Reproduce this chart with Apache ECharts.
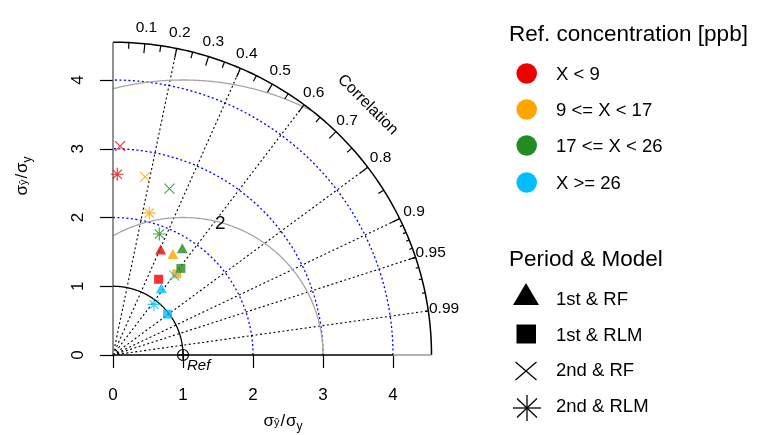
<!DOCTYPE html>
<html><head><meta charset="utf-8">
<script src="https://cdn.jsdelivr.net/npm/echarts@6/dist/echarts.min.js"></script>
<style>html,body{margin:0;padding:0;background:#fff}#c{width:761px;height:435px}</style>
</head><body><div id="c"></div>
<script>
// ---------------- data ----------------
const GROUPS = ['X < 9', '9 <= X < 17', '17 <= X < 26', 'X >= 26'];
const MODELS = ['1st & RF', '1st & RLM', '2nd & RF', '2nd & RLM'];
// normalised standard deviation (sigma_yhat / sigma_y), one value per concentration group
const SD_1ST_RF  = [1.68, 1.70, 1.84, 1.19];
const SD_1ST_RLM = [1.28, 1.49, 1.59, 0.98];
const SD_2ND_RF  = [3.04, 2.63, 2.55, 1.45];
const SD_2ND_RLM = [2.63, 2.13, 1.88, 0.94];
// correlation with reference, one value per concentration group
const COR_1ST_RF  = [0.405, 0.503, 0.538, 0.580];
const COR_1ST_RLM = [0.509, 0.611, 0.610, 0.795];
const COR_2ND_RF  = [0.033, 0.174, 0.316, 0.605];
const COR_2ND_RLM = [0.023, 0.243, 0.352, 0.623];
const REF_SD = 1;
const MAX_SD = 4.55;
const SD_TICKS = [0, 1, 2, 3, 4];
const SD_CIRCLES = [2, 3, 4];
const RMS_ARCS = [2, 4];
const RMS_LABELS = ['2'];
const CORR_RAYS = [0.2, 0.4, 0.6, 0.8, 0.9, 0.95, 0.99];
const CORR_LABELS = ['0.1', '0.2', '0.3', '0.4', '0.5', '0.6', '0.7', '0.8', '0.9', '0.95', '0.99'];
const CORR_BIG_TICKS = [0.1, 0.2, 0.3, 0.4, 0.5, 0.6, 0.7, 0.8, 0.9];
const CORR_MED_TICKS = [0.05, 0.15, 0.25, 0.35, 0.45, 0.55, 0.65, 0.75, 0.85, 0.95];
const CORR_SML_TICKS = [0.91, 0.92, 0.93, 0.94, 0.95, 0.96, 0.97, 0.98, 0.99];

// ---------------- styles ----------------
const FONT = '"Liberation Sans", Arial, Helvetica, sans-serif';
const GROUP_COLORS = ['#EE0000', '#FFA500', '#228B22', '#00BFFF'];
const SD_ALL = [SD_1ST_RF, SD_1ST_RLM, SD_2ND_RF, SD_2ND_RLM];
const COR_ALL = [COR_1ST_RF, COR_1ST_RLM, COR_2ND_RF, COR_2ND_RLM];
const SYMBOLS = [
  {symbol: 'triangle', size: [11, 10], filled: true},
  {symbol: 'rect', size: 9, filled: true},
  {symbol: 'path://M0,0L10,10M10,0L0,10', size: 10, filled: false},
  {symbol: 'path://M5,0L5,10M0,5L10,5M1.46,1.46L8.54,8.54M8.54,1.46L1.46,8.54', size: 13, filled: false}
];

const chart = echarts.init(document.getElementById('c'), null, {renderer: 'canvas'});

function toXY(sd, r) { return [sd * r, sd * Math.sqrt(Math.max(0, 1 - r * r))]; }

const scatterSeries = MODELS.map((m, i) => ({
  name: m,
  type: 'scatter',
  z: 5,
  silent: true,
  symbol: SYMBOLS[i].symbol,
  symbolSize: SYMBOLS[i].size,
  data: GROUPS.map((g, j) => ({
    value: toXY(SD_ALL[i][j], COR_ALL[i][j]),
    itemStyle: SYMBOLS[i].filled
      ? {color: GROUP_COLORS[j]}
      : {color: 'none', borderColor: GROUP_COLORS[j], borderWidth: 1.2}
  }))
}));

function renderGuides(params, api) {
  const P = (x, y) => api.coord([x, y]);
  const ch = [];
  const arc = (cx, cy, r, a0, a1) => {
    const pts = [], n = 160;
    for (let k = 0; k <= n; k++) {
      const a = a0 + (a1 - a0) * k / n;
      pts.push(P(cx + r * Math.cos(a), cy + r * Math.sin(a)));
    }
    return pts;
  };
  const line = (pts, stroke, lw, dash) => ch.push({type: 'polyline', shape: {points: pts},
    style: {stroke: stroke, lineWidth: lw, fill: null, lineDash: dash || null}});
  // sd circles (blue dotted)
  SD_CIRCLES.forEach(r => line(arc(0, 0, r, 0, Math.PI / 2), '#0000FF', 1.3, [2, 2.5]));
  // correlation rays
  CORR_RAYS.forEach(c => line([P(0, 0), P(MAX_SD * c, MAX_SD * Math.sqrt(1 - c * c))], '#000', 1.1, [2, 2.5]));
  // RMS arcs centred on the reference
  RMS_ARCS.forEach(r => {
    let a0 = 0;
    if (REF_SD + r > MAX_SD) {
      const xi = (MAX_SD * MAX_SD - r * r + REF_SD * REF_SD) / (2 * REF_SD);
      a0 = Math.atan2(Math.sqrt(r * r - (xi - REF_SD) * (xi - REF_SD)), xi - REF_SD);
    }
    const a1 = Math.atan2(Math.sqrt(r * r - REF_SD * REF_SD), -REF_SD);
    line(arc(REF_SD, 0, r, a0, a1), '#A6A6A6', 1.3);
  });
  RMS_LABELS.forEach(t => {
    const r = +t, a = 75 * Math.PI / 180;
    const p = P(REF_SD + r * Math.cos(a), r * Math.sin(a));
    ch.push({type: 'text', x: p[0] + 1, y: p[1] + 1.5, style: {text: t, fill: '#000', fontSize: 19, fontFamily: FONT, align: 'center', verticalAlign: 'middle'}});
  });
  // reference sd arc
  line(arc(0, 0, REF_SD, 0, Math.PI / 2), '#000', 1.3);
  // outer arc
  line(arc(0, 0, MAX_SD, 0, Math.PI / 2), '#000', 1.5);
  // axes lines
  line([P(0, 0), P(SD_TICKS[SD_TICKS.length - 1], 0)], '#000', 1.3);
  line([P(SD_TICKS[SD_TICKS.length - 1], 0), P(MAX_SD, 0)], '#999', 1.3);
  line([P(0, 0), P(0, MAX_SD)], '#555', 1.3);
  // correlation ticks
  const ticks = (arr, f) => arr.forEach(c => {
    const s = Math.sqrt(1 - c * c);
    line([P(MAX_SD * c, MAX_SD * s), P(MAX_SD * f * c, MAX_SD * f * s)], '#000', 1.2);
  });
  ticks(CORR_BIG_TICKS, 0.97);
  ticks(CORR_MED_TICKS, 0.98);
  ticks(CORR_SML_TICKS, 0.99);
  CORR_LABELS.forEach(t => {
    const c = +t, s = Math.sqrt(1 - c * c);
    const p = P(MAX_SD * 1.05 * c, MAX_SD * 1.05 * s);
    ch.push({type: 'text', x: p[0], y: p[1], style: {text: t, fill: '#000', fontSize: 15.5, fontFamily: FONT, align: 'center', verticalAlign: 'middle'}});
  });
  const pc = P(MAX_SD * 0.8, MAX_SD * 0.8);
  ch.push({type: 'text', x: pc[0], y: pc[1], rotation: -Math.PI / 4,
    style: {text: 'Correlation', fill: '#000', fontSize: 16, fontFamily: FONT, align: 'center', verticalAlign: 'middle'}});
  // reference point
  const pr = P(REF_SD, 0);
  ch.push({type: 'circle', shape: {cx: pr[0], cy: pr[1], r: 5.5}, style: {stroke: '#000', fill: null, lineWidth: 1.2}});
  line([[pr[0] - 5.5, pr[1]], [pr[0] + 5.5, pr[1]]], '#000', 1.2);
  line([[pr[0], pr[1] - 5.5], [pr[0], pr[1] + 5.5]], '#000', 1.2);
  ch.push({type: 'text', x: pr[0] + 4, y: pr[1] + 11, style: {text: 'Ref', fill: '#000', fontSize: 15, fontStyle: 'italic', fontFamily: FONT, align: 'left', verticalAlign: 'middle'}});
  return {type: 'group', children: ch};
}

// measure text widths for composite axis titles
const mctx = document.createElement('canvas').getContext('2d');
function tw(t, size) { mctx.font = size + 'px ' + FONT; return mctx.measureText(t).width; }
function sigmaLabel() {
  const parts = [
    {t: 'σ', s: 17, dy: 0}, {t: 'ŷ', s: 11, dy: -2}, {t: '/', s: 17, dy: 0, gap: 1},
    {t: 'σ', s: 17, dy: 0, gap: 1}, {t: 'y', s: 12, dy: 3}
  ];
  let x = 0; const out = [];
  parts.forEach(p => {
    x += (p.gap || 0);
    out.push({type: 'text', x: x, y: p.dy, style: {text: p.t, fill: '#000', fontSize: p.s, fontFamily: FONT, align: 'left', verticalAlign: 'bottom'}});
    x += tw(p.t, p.s);
  });
  return {children: out, width: x};
}
const xl = sigmaLabel(), yl = sigmaLabel();

const LEG_ITEM_Y = [75, 111, 147, 184];
const LEG_MOD_Y = [300, 335.5, 371.3, 407.3];
const legend = [];
legend.push({type: 'text', x: 509, y: 35, style: {text: 'Ref. concentration [ppb]', fill: '#000', fontSize: 22.5, fontFamily: FONT, verticalAlign: 'middle'}});
GROUPS.forEach((g, j) => {
  legend.push({type: 'circle', shape: {cx: 526.7, cy: LEG_ITEM_Y[j] - 1.5, r: 10.3}, style: {fill: GROUP_COLORS[j]}});
  legend.push({type: 'text', x: 556, y: LEG_ITEM_Y[j], style: {text: g, fill: '#000', fontSize: 18.5, fontFamily: FONT, verticalAlign: 'middle'}});
});
legend.push({type: 'text', x: 509, y: 260, style: {text: 'Period & Model', fill: '#000', fontSize: 22.5, fontFamily: FONT, verticalAlign: 'middle'}});
legend.push({type: 'polygon', shape: {points: [[513, 305], [539, 305], [526, 283]]}, style: {fill: '#000'}});
legend.push({type: 'rect', shape: {x: 516.5, y: 324.5, width: 19.5, height: 19}, style: {fill: '#000'}});
legend.push({type: 'polyline', shape: {points: [[515.5, 362], [536.5, 380]]}, style: {stroke: '#000', lineWidth: 1.3}});
legend.push({type: 'polyline', shape: {points: [[515.5, 380], [536.5, 362]]}, style: {stroke: '#000', lineWidth: 1.3}});
[[[513, 408], [541, 408]], [[527, 395], [527, 421]], [[517, 398.5], [537, 417.5]], [[517, 417.5], [537, 398.5]]]
  .forEach(pts => legend.push({type: 'polyline', shape: {points: pts}, style: {stroke: '#000', lineWidth: 1.3}}));
MODELS.forEach((m, i) => legend.push({type: 'text', x: 556, y: LEG_MOD_Y[i], style: {text: m, fill: '#000', fontSize: 18.5, fontFamily: FONT, verticalAlign: 'middle'}}));

const graphic = legend.concat([
  {type: 'group', x: 283 - xl.width / 2, y: 430, children: xl.children},
  {type: 'group', x: 31, y: 176 + yl.width / 2, rotation: Math.PI / 2, children: yl.children}
]);

const tickStyle = {show: true, length: 13, lineStyle: {color: '#000', width: 1.2}, customValues: SD_TICKS};
const labelStyle = {color: '#000', fontSize: 17, fontFamily: FONT, customValues: SD_TICKS};
const option = {
  animation: false,
  backgroundColor: '#fff',
  grid: {left: 113, top: 355 - MAX_SD * 68.75, width: MAX_SD * 70, height: MAX_SD * 68.75, containLabel: false},
  xAxis: {type: 'value', min: 0, max: MAX_SD, interval: 1, axisLine: {show: false}, splitLine: {show: false},
    axisTick: tickStyle, axisLabel: Object.assign({}, labelStyle, {margin: 32})},
  yAxis: {type: 'value', min: 0, max: MAX_SD, interval: 1, axisLine: {show: false}, splitLine: {show: false},
    axisTick: tickStyle, axisLabel: Object.assign({}, labelStyle, {margin: 26, rotate: 90})},
  series: [{type: 'custom', coordinateSystem: 'cartesian2d', renderItem: renderGuides, data: [[0, 0]], clip: false, silent: true, z: 1}]
    .concat(scatterSeries),
  graphic: graphic
};
chart.setOption(option);
</script></body></html>
